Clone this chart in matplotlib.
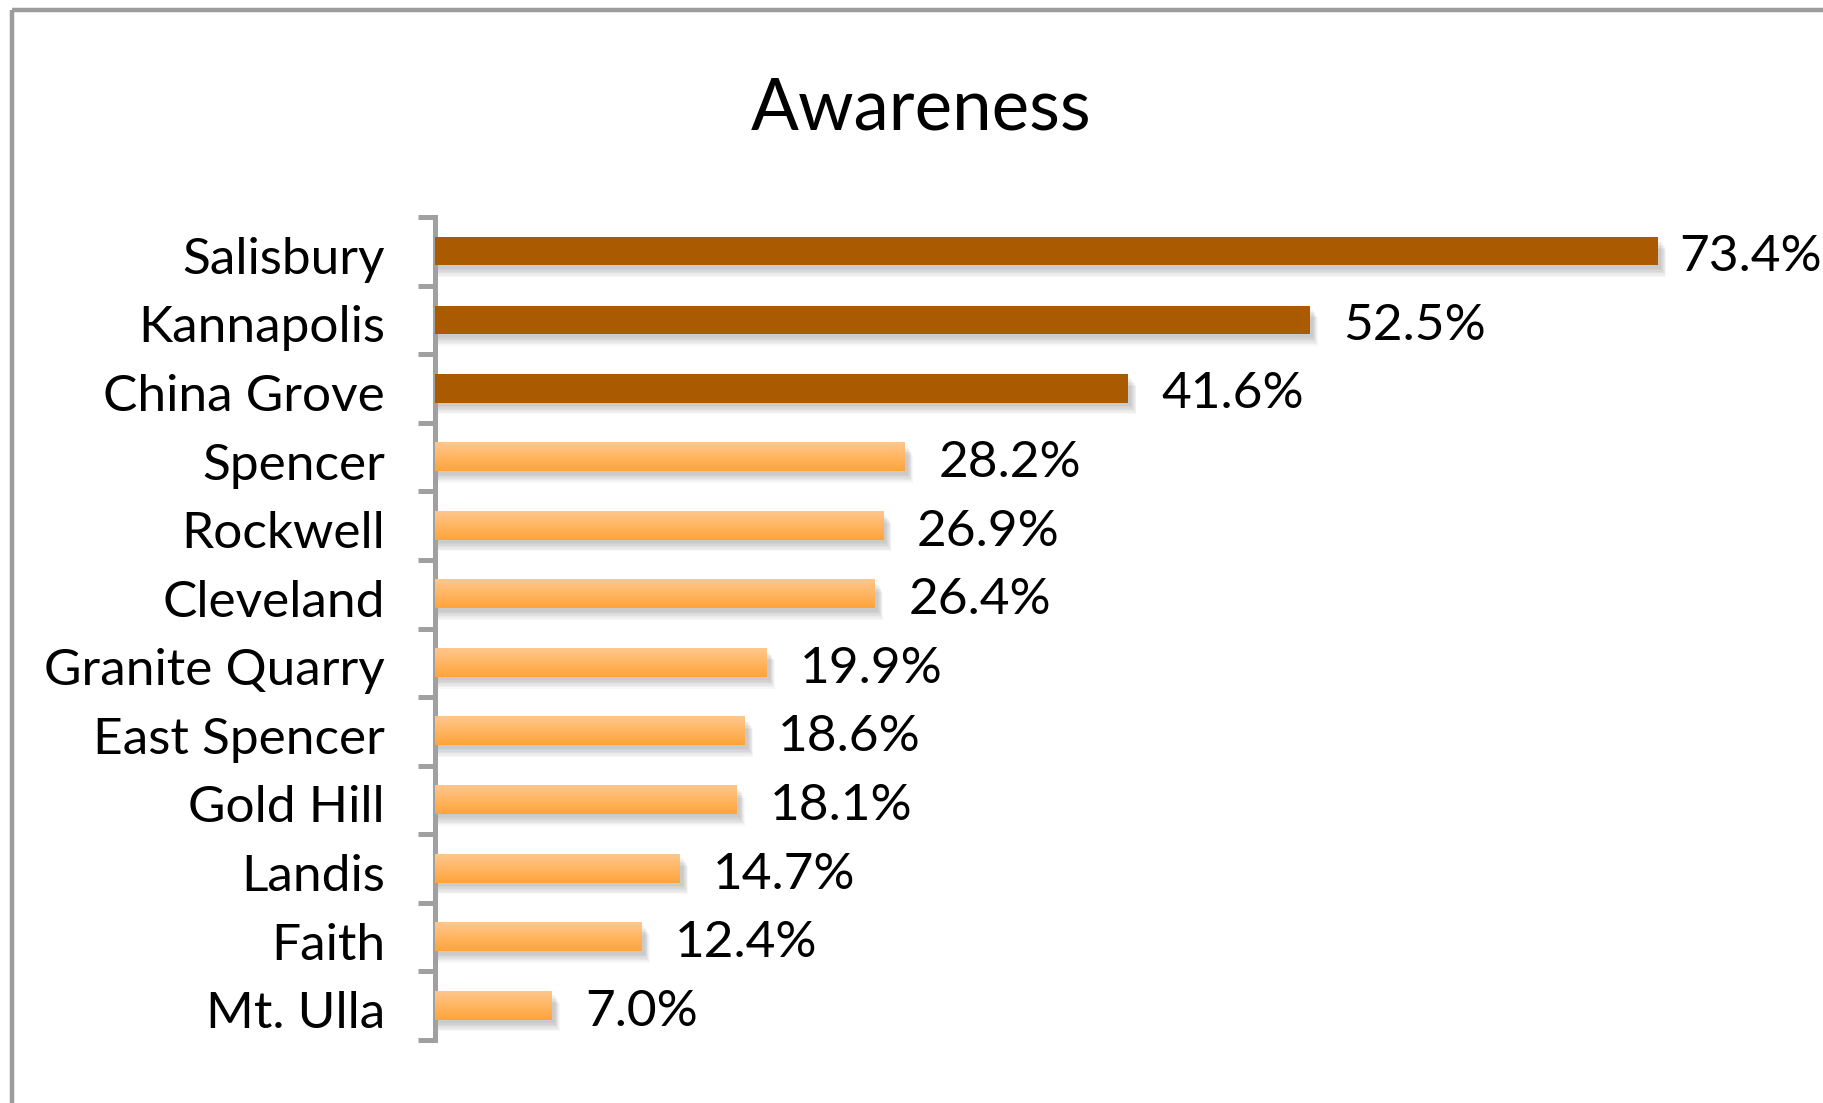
import numpy as np
import matplotlib
matplotlib.use("Agg")
import matplotlib.pyplot as plt
import matplotlib.transforms as mtransforms
from matplotlib.lines import Line2D
from matplotlib.colors import to_rgb

# data
towns = ["Salisbury", "Kannapolis", "China Grove", "Spencer", "Rockwell", "Cleveland",
         "Granite Quarry", "East Spencer", "Gold Hill", "Landis", "Faith", "Mt. Ulla"]
awareness = [73.4, 52.5, 41.6, 28.2, 26.9, 26.4, 19.9, 18.6, 18.1, 14.7, 12.4, 7.0]
highlight = [True, True, True, False, False, False, False, False, False, False, False, False]

plt.rcParams["font.family"] = ["Lato", "DejaVu Sans"]

W, H = 1823, 1103
fig = plt.figure(figsize=(W / 100, H / 100), dpi=100)
fig.patch.set_facecolor("white")

# outer frame (only top and left visible)
border = "#9c9c9c"
fig.add_artist(Line2D([12 / W, 12 / W], [0, 1 - 10 / H], transform=fig.transFigure,
                      color=border, lw=3.2, solid_capstyle="butt"))
fig.add_artist(Line2D([12 / W, 1], [1 - 10 / H, 1 - 10 / H], transform=fig.transFigure,
                      color=border, lw=3.2, solid_capstyle="butt"))

ax_left, ax_top, ax_bot = 435, 217, 1040
xmax = 76
ax_w = xmax * 16.66
ax = fig.add_axes([ax_left / W, 1 - ax_bot / H, ax_w / W, (ax_bot - ax_top) / H])

down_lbl = mtransforms.ScaledTranslation(0, -4 / 100, fig.dpi_scale_trans)
down_val = mtransforms.ScaledTranslation(0, -6 / 100, fig.dpi_scale_trans)

y = np.arange(len(towns))
h = 0.41
dark = "#aa5a00"
light_top = np.array(to_rgb("#ffc78c"))
light_bot = np.array(to_rgb("#ffa43a"))
grad = np.linspace(0, 1, 32)[:, None, None] * (light_bot - light_top) + light_top

for i, (v, hl) in enumerate(zip(awareness, highlight)):
    # soft drop shadow
    for k in range(7):
        ax.barh(y[i] + 0.05 + k * 0.02, v + 0.1 + k * 0.05, height=h, left=0.1,
                color="black", alpha=0.03, lw=0, zorder=1)
    if hl:
        ax.barh(y[i], v, height=h, color=dark, lw=0, zorder=3)
    else:
        ax.barh(y[i], v, height=h, color="white", lw=0, zorder=2)
        ax.imshow(grad, extent=(0, v, y[i] + h / 2, y[i] - h / 2), aspect="auto",
                  zorder=3, interpolation="bilinear")
    # the longest label gets squeezed against the chart edge
    gap = 1.3 if v > 70 else 2.0
    ax.text(v + gap, y[i], f"{v:.1f}%", va="center", ha="left", fontsize=37,
            color="black", transform=ax.transData + down_val)

ax.set_xlim(0, xmax)
ax.set_ylim(len(towns) - 0.5, -0.5)

for s in ["top", "right", "bottom"]:
    ax.spines[s].set_visible(False)
ax.spines["left"].set_color("#a0a0a0")
ax.spines["left"].set_linewidth(3.6)
ax.set_xticks([])
ax.set_yticks(y)
ax.set_yticklabels(towns, fontsize=37)
ax.tick_params(axis="y", which="major", length=0, pad=36)
ax.set_yticks(np.arange(-0.5, len(towns)), minor=True)
ax.tick_params(axis="y", which="minor", length=12, width=3.6, color="#a0a0a0")
for lbl in ax.get_yticklabels():
    lbl.set_transform(lbl.get_transform() + down_lbl)

fig.text(921 / W, 1 - 130 / H, "Awareness", ha="center", va="baseline", fontsize=51)

fig.savefig("out.png", dpi=100)
